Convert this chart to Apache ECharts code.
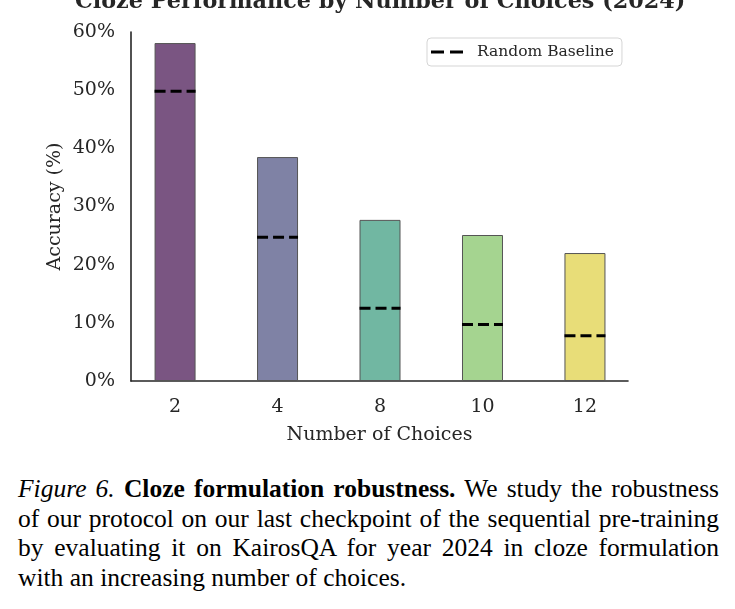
<!DOCTYPE html>
<html>
<head>
<meta charset="utf-8">
<script src="https://cdn.jsdelivr.net/npm/echarts@6/dist/echarts.min.js"></script>
<style>
  html, body { margin: 0; padding: 0; background: #fff; }
  #chart { position: absolute; left: 0; top: 0; width: 735px; height: 460px; }
  #caption {
    position: absolute; left: 18px; top: 474px; width: 701px;
    font-family: "Liberation Serif", "Times New Roman", Times, serif;
    font-size: 25.5px; line-height: 29.7px; color: #000;
    text-align: justify;
  }
</style>
</head>
<body>
<div id="chart"></div>
<div id="caption"><i>Figure 6.</i> <b>Cloze formulation robustness.</b> We study the robustness of our protocol on our last checkpoint of the sequential pre-training by evaluating it on KairosQA for year 2024 in cloze formulation with an increasing number of choices.</div>
<script>
// data
const choices = ['2', '4', '8', '10', '12']
const accuracy = [58.1, 38.5, 27.7, 25.1, 22.0]
const baseline = [49.8, 24.7, 12.5, 9.7, 7.8]
const barColors = ['#7a5582', '#7f82a5', '#71b7a2', '#a5d490', '#e8dd78']
const yTicks = [0, 10, 20, 30, 40, 50, 60]

const serif = 'DejaVu Serif'
const chart = echarts.init(document.getElementById('chart'))

chart.setOption({
  animation: false,
  title: {
    text: 'Cloze Performance by Number of Choices (2024)',
    left: 70,
    top: -14,
    textStyle: { fontFamily: serif, fontWeight: 'bold', fontSize: 22.3, color: '#262626' }
  },
  legend: {
    left: 427,
    top: 38,
    padding: [6, 8, 6, 4],
    borderColor: '#d5d5d5',
    borderWidth: 1,
    borderRadius: 4,
    itemWidth: 32,
    itemHeight: 4,
    textStyle: { fontFamily: serif, fontSize: 15.5, color: '#262626', padding: [0, 0, 0, 9] },
    data: [{
      name: 'Random Baseline',
      icon: 'path://M0,0 L13,0 L13,3 L0,3 Z M19,0 L32,0 L32,3 L19,3 Z'
    }]
  },
  grid: { left: 131, right: 107, top: 32, bottom: 79 },
  xAxis: {
    type: 'value',
    min: -0.43,
    max: 4.42,
    name: 'Number of Choices',
    nameLocation: 'middle',
    nameGap: 45,
    nameMoveOverlap: false,
    nameTextStyle: { fontFamily: serif, fontSize: 19, color: '#262626' },
    splitLine: { show: false },
    axisTick: { show: false },
    axisLine: { onZero: false, lineStyle: { color: '#262626', width: 1.6 } },
    axisLabel: {
      customValues: choices.map((c, i) => i),
      formatter: v => choices[Math.round(v)],
      margin: 17,
      fontFamily: serif,
      fontSize: 19,
      color: '#262626'
    }
  },
  yAxis: {
    type: 'value',
    min: 0,
    max: 60,
    interval: 10,
    name: 'Accuracy (%)',
    nameLocation: 'middle',
    nameGap: 66,
    nameMoveOverlap: false,
    nameTextStyle: { fontFamily: serif, fontSize: 19, color: '#262626' },
    splitLine: { show: false },
    axisTick: { show: false },
    axisLine: { show: true, onZero: false, lineStyle: { color: '#262626', width: 1.6 } },
    axisLabel: {
      formatter: v => (yTicks.includes(v) ? v + '%' : ''),
      margin: 16,
      fontFamily: serif,
      fontSize: 19,
      color: '#262626'
    }
  },
  series: [
    {
      name: 'Accuracy',
      type: 'bar',
      barWidth: 41,
      data: accuracy.map((v, i) => ({
        value: [i, v],
        itemStyle: { color: barColors[i], borderColor: '#555555', borderWidth: 1 }
      }))
    },
    {
      name: 'Random Baseline',
      type: 'custom',
      itemStyle: { color: '#000' },
      z: 5,
      data: baseline.map((v, i) => [i, v]),
      renderItem (params, api) {
        const i = api.value(0)
        const v = api.value(1)
        const p1 = api.coord([i - 0.2, v])
        const p2 = api.coord([i + 0.2, v])
        return {
          type: 'line',
          shape: { x1: p1[0], y1: p1[1], x2: p2[0], y2: p2[1] },
          style: { stroke: '#000', lineWidth: 3, lineDash: [11, 5] }
        }
      }
    }
  ]
})
</script>
</body>
</html>
